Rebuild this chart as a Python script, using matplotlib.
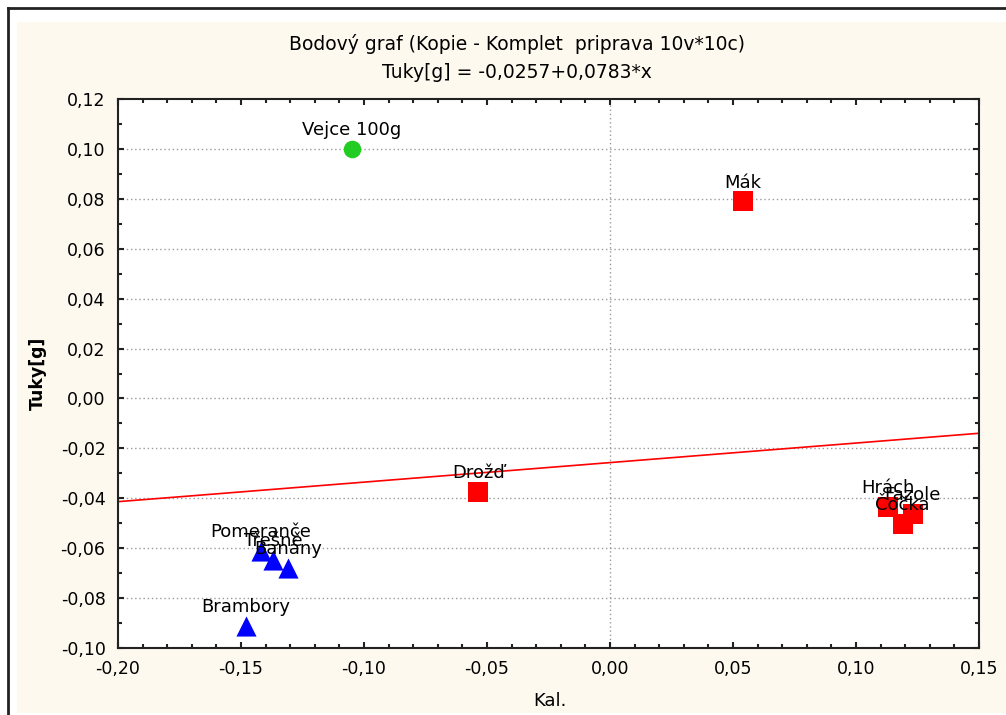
import numpy as np
import matplotlib
matplotlib.use("Agg")
import matplotlib.pyplot as plt
from matplotlib.patches import Rectangle
from matplotlib.ticker import MultipleLocator, FuncFormatter

# body grafu - odhad z obrazku
vejce_names = ["Vejce 100g"]
vejce_kal = [-0.105]
vejce_tuky = [0.100]

red_names = ["Mák", "Drožď", "Hrách", "Fazole", "Čočka"]
red_kal = [0.054, -0.0535, 0.113, 0.123, 0.119]
red_tuky = [0.079, -0.0375, -0.0435, -0.0463, -0.0503]

blue_names = ["Pomeranče", "Třešně", "Banány", "Brambory"]
blue_kal = [-0.142, -0.137, -0.131, -0.148]
blue_tuky = [-0.0612, -0.0648, -0.068, -0.0912]

intercept = -0.0257
slope = 0.0783

CREAM = "#FEF9EF"
FONT = "DejaVu Sans"
plt.rcParams["font.family"] = FONT


def comma_fmt(v, pos):
    s = f"{v:.2f}".replace(".", ",")
    if s == "-0,00":
        s = "0,00"
    return s


fig = plt.figure(figsize=(10.06, 7.15), dpi=100)
fig.patch.set_facecolor("white")

# ramecek a kremove pozadi
fig.add_artist(Rectangle((17 / 1006, 1 - 713 / 715), 989 / 1006, 691 / 715,
                         transform=fig.transFigure, facecolor=CREAM,
                         edgecolor="none", zorder=-10))
fig.add_artist(plt.Line2D([8 / 1006, 8 / 1006], [0, 1 - 8 / 715],
                          transform=fig.transFigure, color="#222222", lw=2, zorder=-5))
fig.add_artist(plt.Line2D([8 / 1006, 1], [1 - 8 / 715, 1 - 8 / 715],
                          transform=fig.transFigure, color="#222222", lw=2, zorder=-5))

ax = fig.add_axes([118 / 1006, 1 - 648 / 715, 861 / 1006, 549 / 715])
ax.set_zorder(1)
ax.set_facecolor("white")
ax.set_xlim(-0.20, 0.15)
ax.set_ylim(-0.10, 0.12)

ax.xaxis.set_major_locator(MultipleLocator(0.05))
ax.xaxis.set_minor_locator(MultipleLocator(0.01))
ax.yaxis.set_major_locator(MultipleLocator(0.02))
ax.yaxis.set_minor_locator(MultipleLocator(0.01))
ax.xaxis.set_major_formatter(FuncFormatter(comma_fmt))
ax.yaxis.set_major_formatter(FuncFormatter(comma_fmt))
ax.tick_params(which="both", direction="in", top=True, right=True,
               colors="#222222", width=1.5, labelsize=12.5, labelcolor="black")
ax.tick_params(which="major", length=4, pad=9)
ax.tick_params(which="minor", length=3)
for sp in ax.spines.values():
    sp.set_linewidth(1.5)
    sp.set_color("#222222")

# mrizka
for yv in np.arange(-0.08, 0.11, 0.02):
    ax.axhline(yv, color="#9a9a9a", lw=1, ls=(0, (1, 2)), zorder=1)
ax.axvline(0, color="#9a9a9a", lw=1, ls=(0, (1, 2)), zorder=1)

# regresni primka
xx = np.array(ax.get_xlim())
ax.plot(xx, intercept + slope * xx, color="red", lw=1.2, zorder=2)

ax.scatter(vejce_kal, vejce_tuky, marker="o", s=160, color="#22cc22", zorder=3, linewidths=0)
ax.scatter(red_kal, red_tuky, marker="s", s=220, color="red", zorder=3, linewidths=0)
ax.scatter(blue_kal, blue_tuky, marker="^", s=210, color="blue", zorder=3, linewidths=0)

for names, xs, ys in [(vejce_names, vejce_kal, vejce_tuky),
                      (red_names, red_kal, red_tuky),
                      (blue_names, blue_kal, blue_tuky)]:
    for n, x, y in zip(names, xs, ys):
        ax.annotate(n, (x, y), xytext=(0, 7), textcoords="offset points",
                    ha="center", va="bottom", fontsize=13, zorder=4)

fig.text(517 / 1006, 1 - 44 / 715, "Bodový graf (Kopie - Komplet  priprava 10v*10c)",
         ha="center", va="center", fontsize=13.5)
fig.text(517 / 1006, 1 - 72 / 715, "Tuky[g] = -0,0257+0,0783*x",
         ha="center", va="center", fontsize=13.5)
fig.text(550 / 1006, 1 - 701 / 715, "Kal.", ha="center", va="center", fontsize=13)
fig.text(38 / 1006, 1 - 373 / 715, "Tuky[g]", ha="center", va="center",
         rotation=90, fontsize=12.5, fontweight="bold")

fig.savefig("out.png", dpi=100)
